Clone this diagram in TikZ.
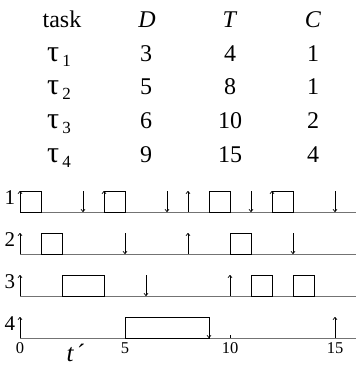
\documentclass[tikz,border=0pt]{standalone}
\usepackage{fontspec}
\setmainfont{Liberation Serif}
\usetikzlibrary{arrows.meta}

% one processor timeline: #1 label, #2 baseline y, #3 releases, #4 deadlines, #5 executions
\newcommand\taskrow[5]{%
  \draw[axisline] (20,#2) -- (356,#2);
  \foreach \a/\b in {#5} \draw[job] ({20+21*\a},#2) rectangle ({20+21*\b},{#2-21});
  \foreach \a in {#3} \draw[evt] ({20+21*\a},#2) -- ({20+21*\a},{#2-21});
  \foreach \a in {#4} \draw[evt] ({20+21*\a},{#2-21}) -- ({20+21*\a},#2);
  \node[rowlbl] (row#1) at (10,{#2-14.5}) {#1};
}

\begin{document}
\begin{tikzpicture}[x=1pt,y=-1pt,
  txt/.style={font=\fontsize{24}{24}\selectfont, anchor=base, inner sep=0pt},
  rowlbl/.style={font=\fontsize{21}{21}\selectfont, inner sep=0pt},
  ticklbl/.style={font=\fontsize{16.5}{16.5}\selectfont, anchor=north, inner sep=0pt},
  axisline/.style={draw=black!55, line width=0.8pt},
  job/.style={draw=black, line width=0.8pt},
  evt/.style={-{To[length=3pt,width=4.5pt]}, draw=black, line width=0.7pt},
]
\useasboundingbox (0,0) rectangle (356,365);

% parameter table
\node[txt] (hTask) at (62,27) {task};
\node[txt] (hD) at (147,27) {\textit{D}};
\node[txt] (hT) at (230,27) {\textit{T}};
\node[txt] (hC) at (313,27) {\textit{C}};
\foreach \i/\d/\t/\c/\y in {1/3/4/1/61, 2/5/8/1/94, 3/6/10/2/128, 4/9/15/4/162}{
  \node[txt] (tau\i) at (59,\y) {\fontsize{30}{30}\selectfont τ\hspace{3pt}\raisebox{-5pt}{\fontsize{17}{17}\selectfont\i}};
  \node[txt] (d\i) at (146,\y) {\d};
  \node[txt] (p\i) at (230,\y) {\t};
  \node[txt] (c\i) at (313,\y) {\c};
}

% schedule
\taskrow{1}{212}{0,4,8,12}{3,7,11,15}{0/1,4/5,9/10,12/13}
\taskrow{2}{254}{0,8}{5,13}{1/2,10/11}
\taskrow{3}{296}{0,10}{6}{2/4,11/12,13/14}
\taskrow{4}{338}{0,15}{9}{5/9}

% time scale
\draw[job] (230,338) -- (230,335);
\foreach \v in {0,5,10,15}
  \node[ticklbl] (tick\v) at ({20+21*\v},342) {\v};
\node[txt, font=\fontsize{25}{25}\selectfont] (tvar) at (76,361) {\textit{t}\hspace{3pt}´};
\end{tikzpicture}
\end{document}
